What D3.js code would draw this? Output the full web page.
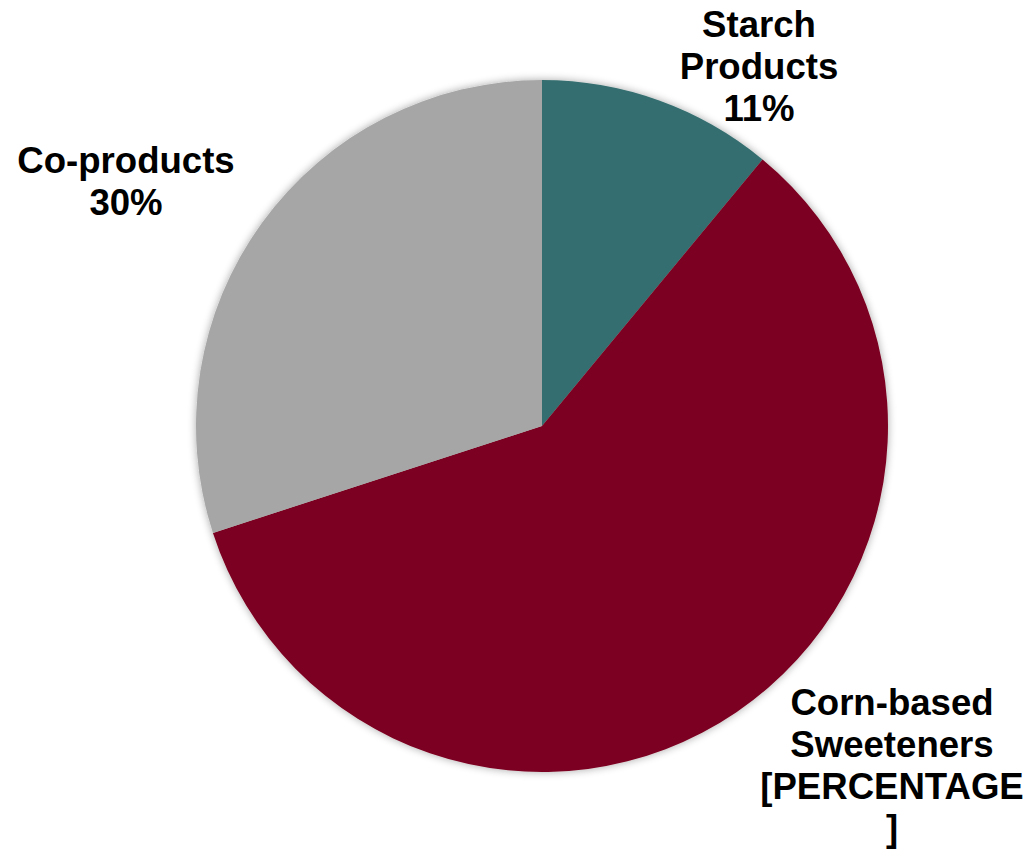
<!DOCTYPE html>
<html><head><meta charset="utf-8">
<script src="https://cdn.jsdelivr.net/npm/d3@7"></script>
<style>html,body{margin:0;padding:0;background:#fff;}</style>
</head><body>
<svg id="chart" width="1031" height="853"></svg>
<script>
const categories = ["Starch Products", "Corn-based Sweeteners", "Co-products"];
const values = [11, 59, 30];
const colors = ["#366E6F", "#7B0520", "#A6A6A6"];
const labelLines = [["Starch", "Products", "11%"], ["Corn-based", "Sweeteners", "[PERCENTAGE", "]"], ["Co-products", "30%"]];
const labelPos = [[759, 37], [892, 715], [126, 173]];

const svg = d3.select("#chart");
const cx = 542, cy = 426, r = 346;
const defs = svg.append("defs");
const f = defs.append("filter").attr("id", "sh").attr("x", "-10%").attr("y", "-10%").attr("width", "120%").attr("height", "120%");
f.append("feGaussianBlur").attr("in", "SourceAlpha").attr("stdDeviation", 4).attr("result", "b");
f.append("feOffset").attr("in", "b").attr("dx", 0).attr("dy", 0).attr("result", "o");
f.append("feComponentTransfer").attr("in", "o").attr("result", "o2").append("feFuncA").attr("type", "linear").attr("slope", 0.35);
const m = f.append("feMerge");
m.append("feMergeNode").attr("in", "o2");
m.append("feMergeNode").attr("in", "SourceGraphic");

const pie = d3.pie().sort(null).value(d => d)(values);
const arc = d3.arc().innerRadius(0).outerRadius(r);
const g = svg.append("g").attr("transform", `translate(${cx},${cy})`).attr("filter", "url(#sh)");
g.selectAll("path").data(pie).join("path").attr("d", arc).attr("fill", (d, i) => colors[i]);

labelLines.forEach((lines, i) => {
  const t = svg.append("text").attr("x", labelPos[i][0]).attr("y", labelPos[i][1])
    .attr("text-anchor", "middle").attr("font-family", "Liberation Sans, Arial, sans-serif")
    .attr("font-weight", "bold").attr("font-size", 36.6).attr("fill", "#000");
  lines.forEach((l, j) => t.append("tspan").attr("x", labelPos[i][0]).attr("y", labelPos[i][1] + j * 42).text(l));
});
</script>
</body></html>
